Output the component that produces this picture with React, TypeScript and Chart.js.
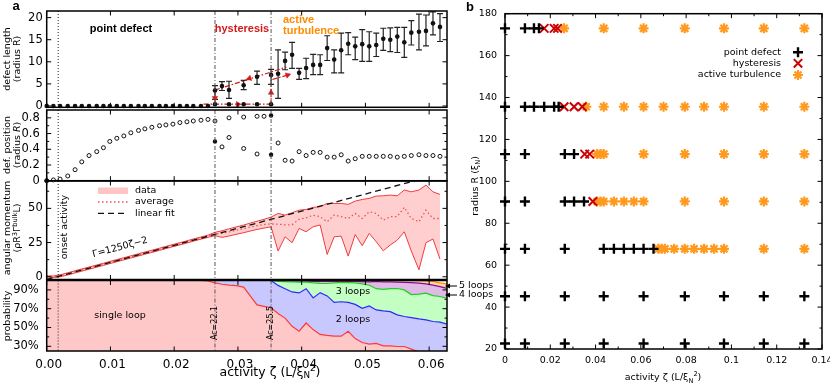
import React, { useEffect, useRef } from 'react';
import { Chart, registerables } from 'chart.js';

Chart.register(...registerables);

const W = 830;
const H = 385;
const WB = 870; // panel b canvas is wider so the last x label never squeezes the plot
const SANS = "'DejaVu Sans', 'Noto Sans', sans-serif";
const ARIAL = "'Liberation Sans', Arial, sans-serif";
const RED = '#d21a1a';
const ORANGE = '#ff8c00';

// ================= panel a : activity grid =================
const zeta = [
  0, 0.00105, 0.0021, 0.0033, 0.00445, 0.0055, 0.00664, 0.00785, 0.0089, 0.0099,
  0.011, 0.0121, 0.0132, 0.0144, 0.0154, 0.0165, 0.0177, 0.0187, 0.0198, 0.0209,
  0.022, 0.023, 0.0242, 0.0253, 0.0264, 0.0275, 0.0286, 0.0297, 0.0309, 0.0319,
  0.033, 0.0341, 0.0352, 0.0363, 0.0374, 0.0385, 0.0396, 0.0407, 0.0418, 0.0429,
  0.044, 0.0451, 0.0462, 0.0473, 0.0484, 0.0495, 0.0506, 0.0517, 0.0528, 0.0539,
  0.055, 0.0561, 0.0572, 0.0584, 0.0595, 0.0606, 0.0617,
];
const zetaEdge = 0.0628;
const xTicksA = [0, 0.01, 0.02, 0.03, 0.04, 0.05, 0.06];
const onsetZeta = 0.0018;
const acZeta = [0.0264, 0.0352];
const acLabels = ['Ac=22.1', 'Ac=25.5'];

// ---- defect length ----
const lenTicks = [0, 5, 10, 15, 20];
const lenPdX = [
  0, 0.00105, 0.0021, 0.0033, 0.00445, 0.0055, 0.00664, 0.00785, 0.0089, 0.0099,
  0.011, 0.0121, 0.0132, 0.0144, 0.0154, 0.0165, 0.0177, 0.0187, 0.0198, 0.0209,
  0.022, 0.023, 0.0242, 0.0253,
];
const lenPdY = [
  0, 0, 0, 0, 0, 0, 0, 0, 0, 0,
  0, 0, 0, 0, 0, 0, 0, 0, 0, 0,
  0, 0, 0, 0,
];
const lenLowX = [0.0264, 0.0286, 0.0309, 0.033, 0.0352];
const lenLowY = [0.4, 0.4, 0.4, 0.4, 0.4];
const lenHiX = [
  0.0264, 0.0275, 0.0286, 0.0309, 0.033, 0.0352, 0.0363, 0.0374, 0.0385, 0.0396,
  0.0407, 0.0418, 0.0429, 0.044, 0.0451, 0.0462, 0.0473, 0.0484, 0.0495, 0.0506,
  0.0517, 0.0528, 0.0539, 0.055, 0.0561, 0.0572, 0.0584, 0.0595, 0.0606, 0.0617,
];
const lenHiY = [
  3.5, 4.5, 3.6, 4.7, 6.6, 7.0, 7.3, 10.2, 11.6, 7.5,
  8.6, 9.3, 9.3, 13.1, 10.5, 12.6, 14.1, 13.5, 14.0, 13.5,
  13.8, 15.2, 15.0, 15.7, 14.4, 16.6, 16.8, 17.0, 18.7, 17.9,
];
const lenErrLo = [
  1.5, 3.5, 1.7, 3.7, 4.9, 4.9, 1.7, 8.2, 8.5, 6.0,
  6.2, 7.1, 7.1, 10.3, 7.5, 7.5, 11.6, 10.5, 10.1, 10.1,
  11.2, 12.6, 12.3, 12.1, 11.0, 13.8, 12.7, 13.6, 16.1, 14.6,
];
const lenErrHi = [
  4.6, 5.5, 5.6, 5.8, 7.9, 8.3, 12.7, 12.2, 14.4, 8.5,
  10.8, 11.7, 11.6, 15.9, 12.7, 16.5, 16.6, 15.6, 17.3, 16.8,
  16.5, 17.6, 17.7, 17.8, 17.8, 19.3, 20.8, 20.6, 21.3, 20.9,
];
// hysteresis guide (red dash-dot)
const hystUpX = [0.0264, 0.0376];
const hystUpY = [3.6, 8.8];
const hystLowX = [0.0246, 0.0352];
const hystLowY = [0.4, 0.4];
const hystDownX = [0.0264, 0.0264];
const hystDownY = [3.6, 0.4];
const hystJumpX = [0.0352, 0.0352];
const hystJumpY = [0.4, 5.2];
const hystOutX = [0.0354, 0.0378];
const hystOutY = [6.0, 7.0];
const arrowX = [0.0318, 0.0264, 0.0300, 0.0352, 0.0378];
const arrowY = [6.25, 1.8, 0.4, 3.0, 7.0];
const arrowRot = [252, 180, 90, 0, 72];

// ---- defect position ----
const posTicks = [0, 0.2, 0.4, 0.6, 0.8];
const posMinor = [0.1, 0.3, 0.5, 0.7];
const posHollowX = [
  0, 0.00105, 0.0021, 0.0033, 0.00445, 0.0055, 0.00664, 0.00785, 0.0089, 0.0099,
  0.011, 0.0121, 0.0132, 0.0144, 0.0154, 0.0165, 0.0177, 0.0187, 0.0198, 0.0209,
  0.022, 0.023, 0.0242, 0.0253,
  0.0264, 0.0275, 0.0286, 0.0286, 0.0309, 0.0309, 0.033, 0.033, 0.0341,
  0.0363, 0.0374, 0.0385, 0.0396, 0.0407, 0.0418, 0.0429, 0.044, 0.0451, 0.0462,
  0.0473, 0.0484, 0.0495, 0.0506, 0.0517, 0.0528, 0.0539, 0.055, 0.0561, 0.0572,
  0.0584, 0.0595, 0.0606, 0.0617,
];
const posHollowY = [
  0, 0.01, 0.02, 0.06, 0.14, 0.24, 0.32, 0.37, 0.42, 0.50,
  0.54, 0.57, 0.61, 0.64, 0.66, 0.68, 0.70, 0.71, 0.72, 0.74,
  0.75, 0.76, 0.77, 0.78,
  0.76, 0.43, 0.80, 0.55, 0.81, 0.41, 0.82, 0.34, 0.82,
  0.48, 0.26, 0.25, 0.37, 0.32, 0.36, 0.36, 0.30, 0.30, 0.33,
  0.25, 0.28, 0.31, 0.31, 0.31, 0.31, 0.31, 0.30, 0.31, 0.32,
  0.33, 0.32, 0.32, 0.31,
];
const posFilledX = [0, 0.0264, 0.0352, 0.0352];
const posFilledY = [0, 0.50, 0.83, 0.33];

// ---- angular momentum ----
const amTicks = [0, 25, 50];
const amMinor = [12.5, 37.5, 62.5];
const amLo = [
  0, -0.6, 0, 1.3, 2.8, 4.1, 5.5, 7.0, 8.3, 9.6,
  11.0, 12.3, 13.7, 15.2, 16.5, 17.8, 19.3, 20.6, 22.0, 23.3,
  24.7, 26.0, 27.5, 28.8, 30.0, 28.8, 29.8, 31.0, 32.2, 33.4,
  34.6, 35.6, 36.5, 18.8, 29.2, 24.9, 35.3, 32.9, 36.6, 37.8,
  16.3, 29.2, 29.7, 15.1, 30.9, 22.7, 31.7, 25.6, 19.0, 23.2,
  26.8, 32.9, 18.8, 5.1, 24.9, 27.6, 12.9,
];
const amHi = [
  0.6, 0.6, 1.4, 2.9, 4.4, 5.7, 7.1, 8.6, 9.9, 11.2,
  12.6, 13.9, 15.3, 16.8, 18.1, 19.4, 20.9, 22.2, 23.6, 24.9,
  26.3, 27.6, 29.1, 30.4, 32.5, 33.6, 35.0, 36.4, 37.8, 39.2,
  40.6, 42.0, 43.6, 46.3, 45.1, 46.8, 48.7, 49.2, 50.7, 51.2,
  53.6, 53.6, 53.6, 52.9, 55.3, 56.5, 57.3, 59.0, 59.2, 59.7,
  59.2, 63.4, 62.1, 63.4, 67.0, 62.1, 60.2,
];
const amAvg = [
  0.3, 0, 0.7, 2.1, 3.6, 4.9, 6.3, 7.8, 9.1, 10.4,
  11.8, 13.1, 14.5, 16.0, 17.3, 18.6, 20.1, 21.4, 22.8, 24.1,
  25.5, 26.8, 28.3, 29.6, 31.2, 31.8, 32.8, 34.0, 35.2, 36.4,
  37.4, 38.2, 38.6, 38.5, 38.0, 38.0, 42.0, 43.0, 45.0, 43.9,
  40.2, 45.1, 43.9, 42.6, 46.3, 42.6, 47.5, 46.3, 41.4, 43.9,
  44.0, 50.7, 42.6, 40.2, 48.7, 42.6, 42.6,
];
const fitX = [0, 0.0577];
const fitY = [-2, 70.1];

// ---- loop probability (cumulative boundaries, %) ----
const probTicks = [30, 50, 70, 90];
const probMinor = [40, 60, 80, 100];
const probX = [...zeta, zetaEdge];
const cumOne = [
  100, 100, 100, 100, 100, 100, 100, 100, 100, 100,
  100, 100, 100, 100, 100, 100, 100, 100, 100, 100,
  100, 100, 100, 99.5, 97.5, 96, 95, 94.5, 93, 84,
  74, 72.5, 71, 65, 60, 51.3, 46, 54.8, 47.8, 42.6,
  41.6, 40.8, 40.8, 46, 38.2, 34, 32.3, 33, 30.5, 30.5,
  29.8, 29.8, 27, 24, 23, 22, 21, 20,
];
const cumTwo = [
  100, 100, 100, 100, 100, 100, 100, 100, 100, 100,
  100, 100, 100, 100, 100, 100, 100, 100, 100, 100,
  100, 100, 100, 100, 100, 100, 100, 100, 100, 100,
  100, 100, 100, 94.8, 91.3, 87.8, 86.8, 91.3, 81.5, 87.1,
  83.6, 76.7, 77.4, 76.7, 74.6, 70.4, 72.9, 68.7, 67.6, 66.9,
  63.4, 61.7, 60.6, 59.2, 58.2, 56.4, 55.7, 53.6,
];
const cumThree = [
  100, 100, 100, 100, 100, 100, 100, 100, 100, 100,
  100, 100, 100, 100, 100, 100, 100, 100, 100, 100,
  100, 100, 100, 100, 100, 100, 100, 100, 100, 100,
  100, 100, 100, 99, 98.8, 98.5, 98.2, 98.2, 97.5, 97,
  96.8, 97.5, 98, 97.8, 97.5, 96.5, 95, 91.3, 90.6, 91.3,
  91.5, 90, 85, 85.5, 86.5, 84, 83, 81,
];
const cumFour = [
  100, 100, 100, 100, 100, 100, 100, 100, 100, 100,
  100, 100, 100, 100, 100, 100, 100, 100, 100, 100,
  100, 100, 100, 100, 100, 100, 100, 100, 100, 100,
  100, 100, 100, 100, 100, 100, 99.5, 99.5, 99, 99,
  99, 99, 98.8, 99, 99, 98.8, 98.5, 99, 98.5, 98.5,
  98.2, 98, 97.8, 97.2, 96.5, 95, 93.5, 91.5,
];
const cumFive = [
  100, 100, 100, 100, 100, 100, 100, 100, 100, 100,
  100, 100, 100, 100, 100, 100, 100, 100, 100, 100,
  100, 100, 100, 100, 100, 100, 100, 100, 100, 100,
  100, 100, 100, 100, 100, 100, 100, 100, 100, 100,
  100, 100, 100, 100, 100, 100, 100, 100, 100, 100,
  100, 100, 100, 99.8, 99.5, 99, 97.5, 96.5,
];

// ================= panel b : phase diagram =================
const xTicksB = [0, 0.02, 0.04, 0.06, 0.08, 0.1, 0.12, 0.14];
const xMinorB = [0.01, 0.03, 0.05, 0.07, 0.09, 0.11, 0.13];
const yTicksB = [20, 40, 60, 80, 100, 120, 140, 160, 180];
const yMinorB = [30, 50, 70, 90, 110, 130, 150, 170];
const radiusRows = [22.6, 45.2, 67.8, 90.4, 113, 135.6, 173];
const pdZeta = [
  [0, 0.0088, 0.0264, 0.0436, 0.0612, 0.0794, 0.0967, 0.1143, 0.1322],
  [0, 0.0088, 0.0264, 0.0436, 0.0612, 0.0794, 0.0967, 0.1143, 0.1322],
  [0, 0.0088, 0.0264, 0.0436, 0.0481, 0.0525, 0.0569, 0.0612, 0.0656],
  [0, 0.0088, 0.0264, 0.0305, 0.0349],
  [0, 0.0088, 0.0264, 0.0305],
  [0, 0.0088, 0.0128, 0.0173, 0.0217, 0.0237],
  [0, 0.0088, 0.0128, 0.015],
];
const hystZeta = [
  [],
  [],
  [],
  [0.0388],
  [0.0352, 0.0374],
  [0.0261, 0.0305, 0.0341],
  [0.0173, 0.0217, 0.0232],
];
const turbZeta = [
  [],
  [],
  [0.0677, 0.0692, 0.0706, 0.0747, 0.0794, 0.0835, 0.0879, 0.0923, 0.0967, 0.1143, 0.1322],
  [0.0407, 0.0422, 0.0436, 0.0481, 0.0525, 0.0569, 0.0612, 0.0794, 0.0967, 0.1143, 0.1322],
  [0.0407, 0.0422, 0.0436, 0.0612, 0.0794, 0.0967, 0.1143, 0.1322],
  [0.0359, 0.0436, 0.0525, 0.0612, 0.070, 0.0794, 0.0879, 0.0967, 0.1143, 0.1322],
  [0.0261, 0.0436, 0.0612, 0.0794, 0.0967, 0.1143, 0.1322],
];

// ================= helpers =================
const pts = (xs: number[], ys: number[]) => xs.map((x, i) => ({ x, y: ys[i] }));
const rowPts = (rows: number[][]) =>
  rows.flatMap((zs, r) => zs.map((z) => ({ x: z, y: radiusRows[r] })));

type Part = { t: string; s?: number; dy?: number; f?: string };

function rich(
  ctx: CanvasRenderingContext2D, parts: Part[], x: number, y: number, size: number,
  rot = 0, align: 'left' | 'center' | 'right' = 'center', family = SANS, color = '#000',
) {
  ctx.save();
  ctx.translate(x, y);
  ctx.rotate(rot);
  ctx.fillStyle = color;
  ctx.textBaseline = 'middle';
  ctx.textAlign = 'left';
  const fonts = parts.map((p) => `${p.f ?? ''} ${(p.s ?? 1) * size}px ${family}`);
  const ws = parts.map((p, i) => { ctx.font = fonts[i]; return ctx.measureText(p.t).width; });
  const total = ws.reduce((a, b) => a + b, 0);
  let cx = align === 'center' ? -total / 2 : align === 'right' ? -total : 0;
  parts.forEach((p, i) => { ctx.font = fonts[i]; ctx.fillText(p.t, cx, p.dy ?? 0); cx += ws[i]; });
  ctx.restore();
}
const txt = (ctx: CanvasRenderingContext2D, s: string, x: number, y: number, size: number,
  rot = 0, align: 'left' | 'center' | 'right' = 'center', family = SANS, color = '#000', weight = '') =>
  rich(ctx, [{ t: s, f: weight }], x, y, size, rot, align, family, color);

function frame(chart: any, xMaj: number[], xMin: number[], yMaj: number[], yMin: number[]) {
  const { ctx, chartArea: a, scales } = chart;
  const xs = scales.x, ys = scales.y;
  ctx.save();
  ctx.strokeStyle = '#000';
  ctx.lineWidth = 1;
  ctx.beginPath();
  const xt = (vals: number[], len: number) => vals.forEach((v) => {
    const p = xs.getPixelForValue(v);
    ctx.moveTo(p, a.bottom); ctx.lineTo(p, a.bottom - len);
    ctx.moveTo(p, a.top); ctx.lineTo(p, a.top + len);
  });
  const yt = (vals: number[], len: number) => vals.forEach((v) => {
    const p = ys.getPixelForValue(v);
    ctx.moveTo(a.left, p); ctx.lineTo(a.left + len, p);
    ctx.moveTo(a.right, p); ctx.lineTo(a.right - len, p);
  });
  xt(xMaj, 4.5); xt(xMin, 2.5); yt(yMaj, 4.5); yt(yMin, 2.5);
  ctx.stroke();
  ctx.lineWidth = 1.5;
  ctx.strokeRect(a.left, a.top, a.right - a.left, a.bottom - a.top);
  ctx.restore();
}

function vlines(chart: any) {
  const { ctx, chartArea: a, scales } = chart;
  ctx.save();
  ctx.lineWidth = 1;
  ctx.strokeStyle = '#222';
  ctx.setLineDash([1, 2]);
  const po = scales.x.getPixelForValue(onsetZeta);
  ctx.beginPath(); ctx.moveTo(po, a.top); ctx.lineTo(po, a.bottom); ctx.stroke();
  ctx.strokeStyle = '#555';
  ctx.setLineDash([4, 2, 1, 2]);
  acZeta.forEach((z) => {
    const p = scales.x.getPixelForValue(z);
    ctx.beginPath(); ctx.moveTo(p, a.top); ctx.lineTo(p, a.bottom); ctx.stroke();
  });
  ctx.restore();
}

type Area = { l: number; r: number; t: number; b: number };
type AxisSpec = {
  min: number; max: number; ticks: number[]; fmt: (v: number) => string;
  size: number; pad: number; show?: boolean; labelOffset?: number;
};

function baseOptions(area: Area, boxLeft: number, x: AxisSpec, y: AxisSpec, cw = W): any {
  const xScale: any = {
    type: 'linear', position: 'bottom', min: x.min, max: x.max, display: !!x.show,
    grid: { display: false, drawTicks: false }, border: { display: false },
    ticks: {
      color: '#000', font: { family: SANS, size: x.size }, padding: x.pad,
      maxRotation: 0, minRotation: 0, autoSkip: false, labelOffset: x.labelOffset ?? 0,
      callback: (v: any) => x.fmt(Number(v)),
    },
    afterBuildTicks: (s: any) => { s.ticks = x.ticks.map((v) => ({ value: v })); },
  };
  if (x.show) xScale.afterFit = (s: any) => { s.height = H - area.b; };
  return {
    responsive: false,
    maintainAspectRatio: false,
    animation: false,
    devicePixelRatio: 1,
    events: [],
    layout: { padding: { left: boxLeft, right: cw - area.r, top: area.t, bottom: x.show ? 0 : H - area.b } },
    plugins: { legend: { display: false }, tooltip: { enabled: false }, title: { display: false } },
    scales: {
      x: xScale,
      y: {
        type: 'linear', position: 'left', min: y.min, max: y.max,
        grid: { display: false, drawTicks: false }, border: { display: false },
        ticks: {
          color: '#000', font: { family: SANS, size: y.size }, padding: y.pad, autoSkip: false,
          callback: (v: any) => y.fmt(Number(v)),
        },
        afterBuildTicks: (s: any) => { s.ticks = y.ticks.map((v) => ({ value: v })); },
        afterFit: (s: any) => { s.width = area.l - boxLeft; },
      },
    },
  };
}

const fmt2 = (v: number) => v.toFixed(2);
const fmtG = (v: number) => String(+v.toFixed(3));
const A1: Area = { l: 46.7, r: 447, t: 11, b: 107.3 };
const A2: Area = { l: 46.7, r: 447, t: 110, b: 180.7 };
const A3: Area = { l: 46.7, r: 447, t: 181, b: 279.5 };
const A4: Area = { l: 46.7, r: 447, t: 280.5, b: 351 };
const AB: Area = { l: 505, r: 822, t: 10, b: 349 };
const xA = (show = false): AxisSpec => ({
  min: 0, max: zetaEdge, ticks: xTicksA, fmt: fmt2, size: 12, pad: 7, show, labelOffset: 2,
});
const yTitle = (ctx: any, l1: Part[], l2: Part[] | null, yc: number) => {
  rich(ctx, l1, 7.5, yc, 9.5, -Math.PI / 2);
  if (l2) rich(ctx, l2, 18, yc, 9.5, -Math.PI / 2);
};
const dot = { pointRadius: 2.3, pointBackgroundColor: '#111', pointBorderWidth: 0, clip: false as any };
const redSeg = (xs: number[], ys: number[]) => ({
  data: pts(xs, ys), showLine: true, borderColor: RED, borderWidth: 1.2,
  borderDash: [5, 2, 1.5, 2], pointRadius: 0,
});

// ================= chart configs =================
function cfgLength(): any {
  return {
    type: 'scatter',
    data: {
      datasets: [
        { data: pts(arrowX, arrowY), pointStyle: 'triangle', pointRadius: 3.2, pointRotation: arrowRot,
          pointBackgroundColor: RED, pointBorderColor: RED, pointBorderWidth: 0.5, clip: false },
        { data: pts(lenPdX, lenPdY), ...dot },
        { data: pts(lenLowX, lenLowY), ...dot },
        { data: pts(lenHiX, lenHiY), ...dot },
        redSeg(hystUpX, hystUpY), redSeg(hystLowX, hystLowY), redSeg(hystDownX, hystDownY),
        redSeg(hystJumpX, hystJumpY), redSeg(hystOutX, hystOutY),
      ],
    },
    options: baseOptions(A1, 0, xA(),
      { min: -0.3, max: 21.5, ticks: lenTicks, fmt: fmtG, size: 11.5, pad: 4 }),
    plugins: [{
      id: 'p1',
      beforeDatasetsDraw(chart: any) {
        const { ctx, scales } = chart;
        ctx.save();
        ctx.strokeStyle = '#222';
        ctx.lineWidth = 1.2;
        ctx.beginPath();
        lenHiX.forEach((z, i) => {
          const p = scales.x.getPixelForValue(z);
          const y1 = scales.y.getPixelForValue(lenErrLo[i]);
          const y2 = scales.y.getPixelForValue(lenErrHi[i]);
          ctx.moveTo(p, y1); ctx.lineTo(p, y2);
          ctx.moveTo(p - 3, y1); ctx.lineTo(p + 3, y1);
          ctx.moveTo(p - 3, y2); ctx.lineTo(p + 3, y2);
        });
        ctx.stroke();
        ctx.restore();
      },
      afterDatasetsDraw(chart: any) { vlines(chart); },
      afterDraw(chart: any) {
        const { ctx } = chart;
        frame(chart, xTicksA, [], lenTicks, []);
        yTitle(ctx, [{ t: 'defect length' }], [{ t: '(radius R)' }], 59);
        txt(ctx, 'a', 16, 6, 13, 0, 'center', ARIAL, '#000', 'bold');
        txt(ctx, 'point defect', 121, 29, 11, 0, 'center', ARIAL, '#000', 'bold');
        txt(ctx, 'hysteresis', 242, 29, 11, 0, 'center', ARIAL, RED, 'bold');
        txt(ctx, 'active', 283, 20, 11, 0, 'left', ARIAL, ORANGE, 'bold');
        txt(ctx, 'turbulence', 283, 31, 11, 0, 'left', ARIAL, ORANGE, 'bold');
      },
    }],
  };
}

function cfgPosition(): any {
  return {
    type: 'scatter',
    data: {
      datasets: [
        { data: pts(posFilledX, posFilledY), pointRadius: 2.2, pointBackgroundColor: '#111', pointBorderWidth: 0, clip: false },
        { data: pts(posHollowX, posHollowY), pointRadius: 2, pointBackgroundColor: '#fff',
          pointBorderColor: '#111', pointBorderWidth: 1, clip: false },
      ],
    },
    options: baseOptions(A2, 0, xA(),
      { min: 0, max: 0.9, ticks: posTicks, fmt: (v) => (v === 0 ? '0' : v.toFixed(1)), size: 11.5, pad: 7 }),
    plugins: [{
      id: 'p2',
      afterDatasetsDraw(chart: any) { vlines(chart); },
      afterDraw(chart: any) {
        frame(chart, xTicksA, [], posTicks, posMinor);
        yTitle(chart.ctx, [{ t: 'def. position' }], [{ t: '(radius ' }, { t: 'R', f: 'italic' }, { t: ')' }], 145);
      },
    }],
  };
}

function cfgMomentum(): any {
  const band = { borderColor: '#f23c3c', borderWidth: 1, pointRadius: 0, showLine: true };
  return {
    type: 'scatter',
    data: {
      datasets: [
        { data: pts(fitX, fitY), showLine: true, borderColor: '#111', borderWidth: 1.3, borderDash: [6, 4], pointRadius: 0 },
        { data: pts(zeta, amAvg), showLine: true, borderColor: '#f05050', borderWidth: 1.3, borderDash: [1.5, 2.5], pointRadius: 0 },
        { data: pts(zeta, amLo), ...band },
        { data: pts(zeta, amHi), ...band, fill: '-1', backgroundColor: 'rgba(255,140,140,0.42)' },
      ],
    },
    options: baseOptions(A3, 0, xA(),
      { min: -2, max: 70, ticks: amTicks, fmt: fmtG, size: 11.5, pad: 4 }),
    plugins: [{
      id: 'p3',
      afterDatasetsDraw(chart: any) { vlines(chart); },
      afterDraw(chart: any) {
        const { ctx, scales } = chart;
        frame(chart, xTicksA, [], amTicks, amMinor);
        yTitle(ctx, [{ t: 'angular momentum' }],
          [{ t: '(ρR' }, { t: '3', s: 0.7, dy: -3 }, { t: 'Γ' }, { t: 'bulk', s: 0.7, dy: -3 }, { t: 'L)' }], 228);
        // legend
        ctx.save();
        ctx.fillStyle = 'rgba(255,140,140,0.5)';
        ctx.fillRect(98, 187.5, 30, 6.5);
        ctx.lineWidth = 1.3;
        ctx.strokeStyle = '#f05050';
        ctx.setLineDash([1.5, 2.5]);
        ctx.beginPath(); ctx.moveTo(98, 202); ctx.lineTo(128, 202); ctx.stroke();
        ctx.strokeStyle = '#111';
        ctx.setLineDash([6, 4]);
        ctx.beginPath(); ctx.moveTo(98, 213.3); ctx.lineTo(128, 213.3); ctx.stroke();
        ctx.restore();
        txt(ctx, 'data', 135, 190.7, 9.5, 0, 'left');
        txt(ctx, 'average', 135, 202, 9.5, 0, 'left');
        txt(ctx, 'linear fit', 135, 213.3, 9.5, 0, 'left');
        txt(ctx, 'onset activity', 65, 227, 9.5, -Math.PI / 2);
        const ang = Math.atan2(
          scales.y.getPixelForValue(fitY[1]) - scales.y.getPixelForValue(fitY[0]),
          scales.x.getPixelForValue(fitX[1]) - scales.x.getPixelForValue(fitX[0]));
        txt(ctx, 'Γ=1250ζ−2', 120, 247.5, 9.5, ang);
      },
    }],
  };
}

function cfgProbability(): any {
  const layer = (ys: number[], line: string, fillC: string, fill: any) => ({
    data: pts(probX, ys), showLine: true, borderColor: line, borderWidth: 1.2, pointRadius: 0,
    fill, backgroundColor: fillC,
  });
  return {
    type: 'scatter',
    data: {
      datasets: [
        layer(cumOne, '#ff3838', 'rgb(255,200,200)', 'start'),
        layer(cumTwo, '#2a2aff', 'rgb(200,200,255)', '-1'),
        layer(cumThree, '#22cc22', 'rgb(195,255,195)', '-1'),
        layer(cumFour, '#8a0a8a', 'rgb(225,185,230)', '-1'),
        layer(cumFive, '#ff8c00', 'rgb(255,215,170)', '-1'),
      ],
    },
    options: baseOptions(A4, 0, xA(true),
      { min: 25, max: 100, ticks: probTicks, fmt: (v) => `${v}%`, size: 11.5, pad: 8 }),
    plugins: [{
      id: 'p4',
      afterDatasetsDraw(chart: any) {
        vlines(chart);
        const { ctx, scales } = chart;
        acZeta.forEach((z, i) => txt(ctx, acLabels[i], scales.x.getPixelForValue(z), 323, 8, -Math.PI / 2));
      },
      afterDraw(chart: any) {
        const { ctx } = chart;
        frame(chart, xTicksA, [], probTicks, probMinor);
        yTitle(ctx, [{ t: 'probability' }], null, 316);
        txt(ctx, 'single loop', 120, 316, 9.5);
        txt(ctx, '3 loops', 353, 292, 9.5);
        txt(ctx, '2 loops', 353, 320, 9.5);
        [['5 loops', 286], ['4 loops', 295]].forEach(([s, yy]: any) => {
          ctx.save();
          ctx.strokeStyle = '#000'; ctx.fillStyle = '#000'; ctx.lineWidth = 1;
          ctx.beginPath(); ctx.moveTo(446, yy); ctx.lineTo(457, yy); ctx.stroke();
          ctx.beginPath(); ctx.moveTo(445, yy); ctx.lineTo(450, yy - 2.5); ctx.lineTo(450, yy + 2.5); ctx.closePath(); ctx.fill();
          ctx.restore();
          txt(ctx, s, 459, yy, 9.5, 0, 'left');
        });
        rich(ctx, [{ t: 'activity ζ (L/ξ' }, { t: 'N', s: 0.7, dy: 3 }, { t: '2', s: 0.7, dy: -4 }, { t: ')' }],
          270, 373, 12.5);
      },
    }],
  };
}

function cfgPhase(): any {
  return {
    type: 'scatter',
    data: {
      datasets: [
        { data: rowPts(pdZeta), pointStyle: 'cross', pointRadius: 5, pointBorderWidth: 2.4,
          pointBorderColor: '#000', clip: false },
        { data: rowPts(hystZeta), pointStyle: 'crossRot', pointRadius: 6, pointBorderWidth: 2,
          pointBorderColor: '#cc0000', clip: false },
        { data: rowPts(turbZeta), pointStyle: 'star', pointRadius: 5, pointBorderWidth: 2.2,
          pointBorderColor: '#ff9a1f', clip: false },
      ],
    },
    options: baseOptions(AB, 460,
      { min: 0, max: 0.14, ticks: xTicksB, fmt: fmtG, size: 9.5, pad: 6, show: true },
      { min: 20, max: 180, ticks: yTicksB, fmt: fmtG, size: 9.5, pad: 8 }, WB),
    plugins: [{
      id: 'pb',
      afterDraw(chart: any) {
        const { ctx } = chart;
        frame(chart, xTicksB, xMinorB, yTicksB, yMinorB);
        txt(ctx, 'b', 470, 7, 13, 0, 'center', ARIAL, '#000', 'bold');
        rich(ctx, [{ t: 'radius R (ξ' }, { t: 'N', s: 0.7, dy: 2.5 }, { t: ')' }], 476, 186, 9.5, -Math.PI / 2);
        rich(ctx, [{ t: 'activity ζ (L/ξ' }, { t: 'N', s: 0.7, dy: 3 }, { t: '2', s: 0.7, dy: -4 }, { t: ')' }],
          663, 378, 9.5);
        // legend
        const lx = 798;
        const rows: [string, number][] = [['point defect', 52.3], ['hysteresis', 63.3], ['active turbulence', 75]];
        rows.forEach(([s, yy]) => txt(ctx, s, 781, yy, 9.5, 0, 'right'));
        ctx.save();
        ctx.lineCap = 'butt';
        ctx.strokeStyle = '#000'; ctx.lineWidth = 2.4;
        ctx.beginPath(); ctx.moveTo(lx - 5, 52.3); ctx.lineTo(lx + 5, 52.3); ctx.moveTo(lx, 47.3); ctx.lineTo(lx, 57.3); ctx.stroke();
        ctx.strokeStyle = '#cc0000'; ctx.lineWidth = 2;
        ctx.beginPath(); ctx.moveTo(lx - 4.2, 59.1); ctx.lineTo(lx + 4.2, 67.5); ctx.moveTo(lx + 4.2, 59.1); ctx.lineTo(lx - 4.2, 67.5); ctx.stroke();
        ctx.strokeStyle = '#ff9a1f'; ctx.lineWidth = 2.2;
        ctx.beginPath();
        ctx.moveTo(lx - 5, 75); ctx.lineTo(lx + 5, 75); ctx.moveTo(lx, 70); ctx.lineTo(lx, 80);
        ctx.moveTo(lx - 3.5, 71.5); ctx.lineTo(lx + 3.5, 78.5); ctx.moveTo(lx + 3.5, 71.5); ctx.lineTo(lx - 3.5, 78.5);
        ctx.stroke();
        ctx.restore();
      },
    }],
  };
}

export default function App() {
  const r0 = useRef<HTMLCanvasElement>(null);
  const r1 = useRef<HTMLCanvasElement>(null);
  const r2 = useRef<HTMLCanvasElement>(null);
  const r3 = useRef<HTMLCanvasElement>(null);
  const r4 = useRef<HTMLCanvasElement>(null);
  const refs = [r0, r1, r2, r3, r4];
  const widths = [W, W, W, W, WB];

  useEffect(() => {
    Chart.defaults.font.family = SANS;
    Chart.defaults.color = '#000';
    const cfgs = [cfgProbability(), cfgMomentum(), cfgPosition(), cfgLength(), cfgPhase()];
    const charts = cfgs.map((c, i) => new Chart(refs[i].current as HTMLCanvasElement, c));
    return () => charts.forEach((c) => c.destroy());
  }, []);

  return (
    <div style={{ position: 'fixed', left: 0, top: 0, width: W, height: H, background: '#fff', overflow: 'hidden' }}>
      {refs.map((r, i) => (
        <canvas key={i} ref={r} width={widths[i]} height={H}
          style={{ position: 'absolute', left: 0, top: 0, width: widths[i], height: H }} />
      ))}
    </div>
  );
}
